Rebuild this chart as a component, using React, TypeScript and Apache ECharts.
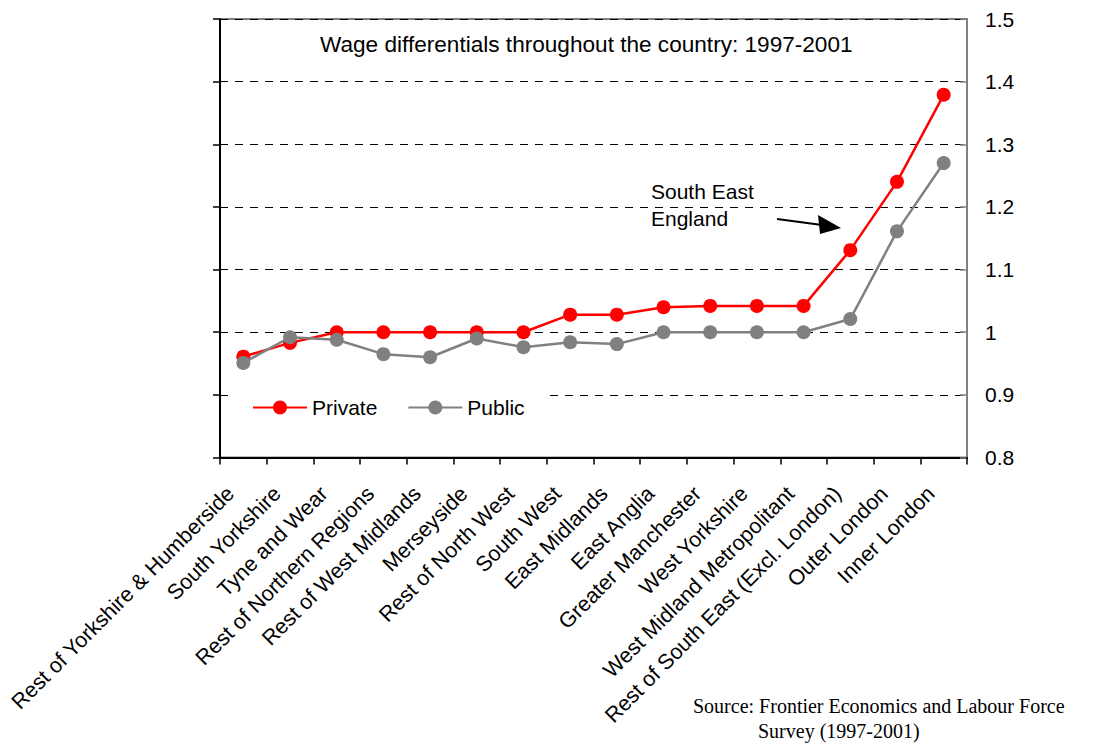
import React, { useEffect, useRef } from "react";
import * as echarts from "echarts";

const categories = [
  "Rest of Yorkshire & Humberside",
  "South Yorkshire",
  "Tyne and Wear",
  "Rest of Northern Regions",
  "Rest of West Midlands",
  "Merseyside",
  "Rest of North West",
  "South West",
  "East Midlands",
  "East Anglia",
  "Greater Manchester",
  "West Yorkshire",
  "West Midland Metropolitant",
  "Rest of South East (Excl. London)",
  "Outer London",
  "Inner London",
];

const privateValues = [0.961, 0.983, 1.0, 1.0, 1.0, 1.0, 1.0, 1.028, 1.028, 1.04, 1.042, 1.042, 1.042, 1.131, 1.24, 1.379];
const publicValues = [0.951, 0.992, 0.988, 0.965, 0.96, 0.99, 0.976, 0.984, 0.981, 1.0, 1.0, 1.0, 1.0, 1.021, 1.161, 1.27];

const titleText = "Wage differentials throughout the country: 1997-2001";
const annotationText = "South East\nEngland";
const sourceLine1 = "Source: Frontier Economics and Labour Force";
const sourceLine2 = "Survey (1997-2001)";

const SANS = "'Liberation Sans', Arial, sans-serif";
const SERIF = "'Liberation Serif', 'Times New Roman', serif";

export default function App() {
  const ref = useRef<HTMLDivElement>(null);
  useEffect(() => {
    if (!ref.current) return;
    const chart = echarts.init(ref.current, null, { renderer: "svg" });
    chart.setOption({
      animation: false,
      backgroundColor: "#ffffff",
      textStyle: { fontFamily: SANS },
      title: {
        text: titleText,
        left: 320,
        top: 33,
        padding: 0,
        textStyle: { fontFamily: SANS, fontSize: 22.6, fontWeight: "normal", color: "#000" },
      },
      grid: {
        left: 220,
        right: 137,
        top: 19,
        height: 438.5,
        containLabel: false,
        outerBoundsMode: "none",
        show: true,
        borderColor: "#808080",
        borderWidth: 2,
        backgroundColor: "transparent",
      },
      legend: {
        data: ["Private", "Public"],
        left: 235,
        top: 387,
        orient: "horizontal",
        padding: [10, 20, 10, 17],
        backgroundColor: "#ffffff",
        itemWidth: 54,
        itemHeight: 17.5,
        itemGap: 30,
        textStyle: { fontFamily: SANS, fontSize: 21, color: "#000" },
      },
      xAxis: {
        type: "category",
        data: categories,
        boundaryGap: true,
        axisLine: { show: true, lineStyle: { color: "#000", width: 2 } },
        axisTick: { show: true, interval: 0, length: 7, lineStyle: { color: "#000", width: 1.5 } },
        axisLabel: {
          interval: 0,
          rotate: 45,
          margin: 20,
          padding: [0, 18, 0, 0],
          fontFamily: SANS,
          fontSize: 21.5,
          color: "#000",
          hideOverlap: false,
        },
        splitLine: { show: false },
      },
      yAxis: [
        {
          type: "value",
          position: "right",
          min: 0.8,
          max: 1.5,
          interval: 0.1,
          axisLine: { show: true, lineStyle: { color: "#808080", width: 2 } },
          axisTick: { show: true, inside: true, length: 7, lineStyle: { color: "#808080", width: 1.5 } },
          axisLabel: {
            margin: 18,
            fontFamily: SANS,
            fontSize: 21,
            color: "#000",
            formatter: (v: number) => String(Math.round(v * 10) / 10),
          },
          splitLine: { show: true, lineStyle: { color: "#000", width: 1.2, type: [8, 7] } },
        },
        {
          type: "value",
          position: "left",
          min: 0.8,
          max: 1.5,
          interval: 0.1,
          axisLine: { show: true, lineStyle: { color: "#000", width: 2 } },
          axisTick: { show: true, inside: false, length: 7, lineStyle: { color: "#000", width: 1.5 } },
          axisLabel: { show: false },
          splitLine: { show: false },
        },
      ],
      series: [
        {
          name: "Private",
          type: "line",
          data: privateValues,
          yAxisIndex: 0,
          symbol: "circle",
          symbolSize: 14,
          lineStyle: { color: "#ff0000", width: 2.5 },
          itemStyle: { color: "#ff0000" },
          z: 3,
        },
        {
          name: "Public",
          type: "line",
          data: publicValues,
          yAxisIndex: 0,
          symbol: "circle",
          symbolSize: 14,
          lineStyle: { color: "#808080", width: 2.5 },
          itemStyle: { color: "#808080" },
          z: 4,
        },
      ],
      graphic: [
        {
          type: "text",
          left: 651,
          top: 178,
          style: {
            text: annotationText,
            font: `21px ${SANS}`,
            fill: "#000",
            lineHeight: 27,
          },
        },
        {
          type: "line",
          shape: { x1: 777, y1: 219, x2: 822, y2: 225 },
          style: { stroke: "#000", lineWidth: 2 },
        },
        {
          type: "polygon",
          shape: { points: [[841, 228], [818, 215], [820, 234]] },
          style: { fill: "#000" },
        },
        {
          type: "text",
          left: 693,
          top: 696,
          style: { text: sourceLine1, font: `20px ${SERIF}`, fill: "#000" },
        },
        {
          type: "text",
          left: 758,
          top: 721,
          style: { text: sourceLine2, font: `20px ${SERIF}`, fill: "#000" },
        },
      ],
    });
    return () => chart.dispose();
  }, []);
  return (
    <div
      ref={ref}
      style={{ position: "absolute", left: 0, top: 0, width: 1104, height: 744 }}
    />
  );
}
